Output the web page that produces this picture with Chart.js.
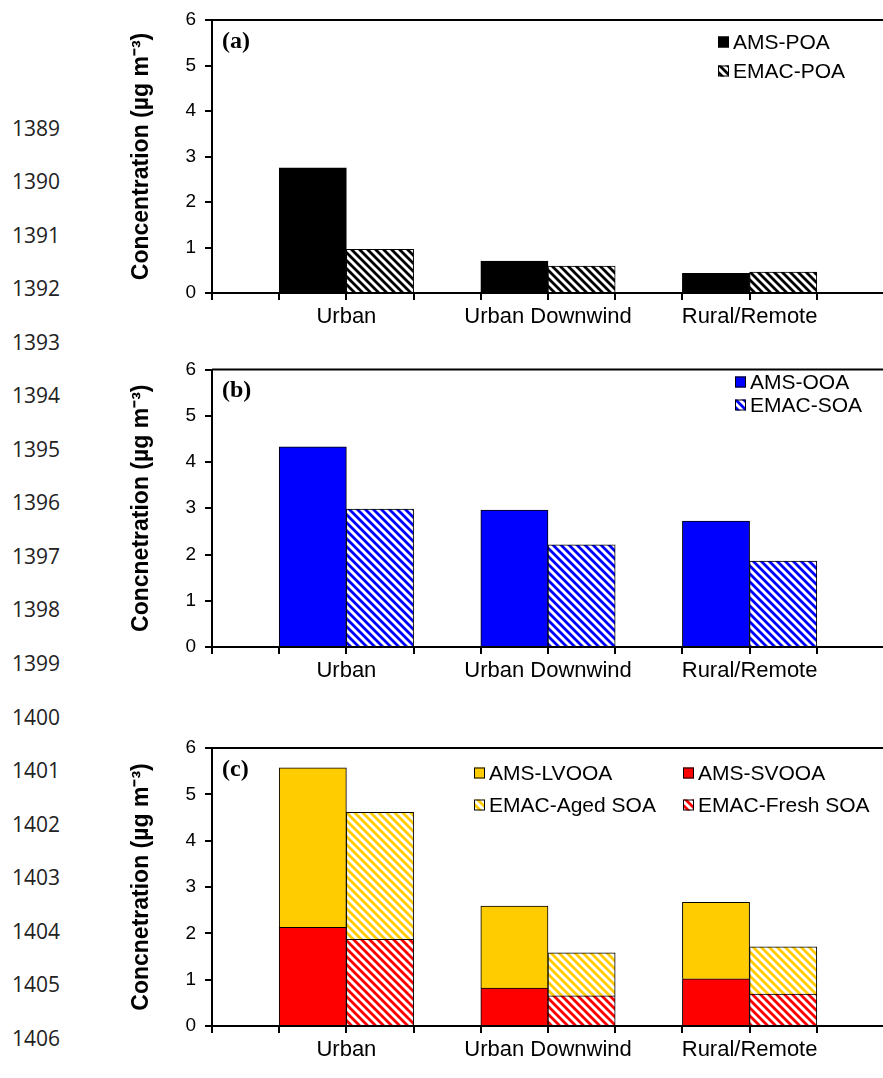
<!DOCTYPE html>
<html>
<head>
<title>OA components: AMS vs EMAC</title>
<script src="https://cdn.jsdelivr.net/npm/chart.js@4.4.0/dist/chart.umd.min.js"></script>
<style>
body {
	margin: 0;
	width: 883px;
	height: 1078px;
	overflow: hidden;
	background: #fff;
	position: relative;
}
.panel {
	position: absolute;
	left: 110px;
}
.lineno {
	position: absolute;
	left: 12px;
	font-family: "Open Sans", sans-serif;
	font-size: 21px;
	line-height: 20px;
	color: #222;
}
</style>
</head>
<body>
	<div class="panel" style="top:0px"><canvas id="chart-a" width="778" height="340"></canvas></div>
	<div class="panel" style="top:350px"><canvas id="chart-b" width="778" height="344"></canvas></div>
	<div class="panel" style="top:728px"><canvas id="chart-c" width="778" height="345"></canvas></div>
	<script>
		// site categories
		const catNames = ['Urban', 'Urban Downwind', 'Rural/Remote'];
		const yTicks = [0, 1, 2, 3, 4, 5, 6];

		// (a) primary OA
		const amsPOA = [2.75, 0.70, 0.43];
		const emacPOA = [0.96, 0.59, 0.46];

		// (b) oxygenated / secondary OA
		const amsOOA = [4.33, 2.96, 2.72];
		const emacSOA = [2.98, 2.21, 1.86];

		// (c) split by volatility / age
		const amsSVOOA = [2.13, 0.82, 1.02];
		const amsLVOOA = [3.44, 1.77, 1.65];
		const emacFresh = [1.87, 0.65, 0.69];
		const emacAged = [2.74, 0.93, 1.02];

		// page line numbers of the manuscript
		for (let n = 1389; n <= 1406; n++) {
			const d = document.createElement('div');
			d.className = 'lineno';
			d.textContent = n;
			d.style.top = (127.5 + (n - 1389) * 53.55 - 10) + 'px';
			document.body.appendChild(d);
		}

		Chart.defaults.font.family = '"Liberation Sans", Arial, sans-serif';
		Chart.defaults.color = '#000';

		function hatch(color) {
			const c = document.createElement('canvas');
			c.width = 8;
			c.height = 8;
			const g = c.getContext('2d');
			g.fillStyle = '#fff';
			g.fillRect(0, 0, 8, 8);
			g.strokeStyle = color;
			g.lineWidth = 2.8;
			g.beginPath();
			for (const k of [-8, 0, 8]) {
				g.moveTo(k - 1, -1);
				g.lineTo(k + 9, 9);
			}
			g.stroke();
			return g.createPattern(c, 'repeat');
		}

		// AMS bar sits left of the group centre, EMAC bar right of it
		const pts = (vals, k) => vals.map((v, i) => ({ x: 3 * i + 1.5 + k, y: v }));

		const panelDecor = {
			id: 'panelDecor',
			afterDraw(chart, args, opts) {
				const { ctx, chartArea } = chart;
				ctx.save();
				ctx.strokeStyle = '#000';
				ctx.lineWidth = 2;
				ctx.beginPath();
				ctx.moveTo(chartArea.left, chartArea.top);
				ctx.lineTo(chartArea.right, chartArea.top);
				ctx.stroke();

				ctx.fillStyle = '#000';
				ctx.textBaseline = 'middle';
				ctx.textAlign = 'left';
				ctx.font = 'bold 24px "Liberation Serif", "Times New Roman", serif';
				ctx.fillText(opts.tag, 112, opts.tagY);

				ctx.font = '21px "Liberation Sans", Arial, sans-serif';
				chart.data.datasets.forEach((ds, i) => {
					const p = opts.legend[i];
					ctx.fillStyle = ds.backgroundColor;
					ctx.fillRect(p.x, p.y - 5.5, 11, 11);
					ctx.lineWidth = 1;
					ctx.strokeStyle = '#000';
					ctx.strokeRect(p.x + 0.5, p.y - 5, 10, 10);
					ctx.fillStyle = '#000';
					ctx.fillText(ds.label, p.x + 15, p.y + 1);
				});
				ctx.restore();
			}
		};

		function makeChart(id, datasets, yTitle, padTop, stacked, decor) {
			const ctx = document.getElementById(id).getContext('2d');
			return new Chart(ctx, {
				type: 'bar',
				data: { datasets: datasets },
				plugins: [panelDecor],
				options: {
					responsive: false,
					animation: false,
					events: [],
					layout: { padding: { top: padTop, left: 0, right: 0, bottom: 0 } },
					datasets: {
						bar: {
							grouped: false,
							barPercentage: 1,
							categoryPercentage: 1,
							borderWidth: 1,
							borderColor: '#000'
						}
					},
					plugins: {
						legend: { display: false },
						tooltip: { enabled: false },
						panelDecor: decor
					},
					scales: {
						x: {
							type: 'linear',
							min: 0,
							max: 10,
							offset: false,
							border: { color: '#000', width: 2 },
							grid: { offset: false, drawOnChartArea: false, drawTicks: true, tickLength: 7, color: '#000', lineWidth: 2 },
							ticks: {
								stepSize: 1,
								autoSkip: false,
								maxRotation: 0,
								minRotation: 0,
								padding: 4,
								font: { size: 22 },
								callback: (v) => {
									const i = (v - 2) / 3;
									return Number.isInteger(i) && catNames[i] ? catNames[i] : '';
								}
							},
							afterFit: (s) => { s.height = 47; }
						},
						y: {
							min: yTicks[0],
							max: yTicks[yTicks.length - 1],
							stacked: stacked,
							border: { color: '#000', width: 2 },
							grid: { drawOnChartArea: false, drawTicks: true, tickLength: 7, color: '#000', lineWidth: 2 },
							ticks: { stepSize: 1, padding: 9, font: { size: 19, lineHeight: 1 } },
							title: {
								display: true,
								text: yTitle,
								font: { size: 23, weight: 'bold' },
								padding: { top: 18, bottom: 0 }
							},
							afterFit: (s) => { s.width = 102; }
						}
					}
				}
			});
		}

		makeChart('chart-a', [
			{ label: 'AMS-POA', data: pts(amsPOA, 0), backgroundColor: '#000000', stack: 'ams' },
			{ label: 'EMAC-POA', data: pts(emacPOA, 1), backgroundColor: hatch('#000000'), stack: 'emac' }
		], 'Concentration (µg m⁻³)', 20, false, {
			tag: '(a)', tagY: 42,
			legend: [{ x: 608, y: 42 }, { x: 608, y: 71 }]
		});

		makeChart('chart-b', [
			{ label: 'AMS-OOA', data: pts(amsOOA, 0), backgroundColor: '#0000ff', stack: 'ams' },
			{ label: 'EMAC-SOA', data: pts(emacSOA, 1), backgroundColor: hatch('#0000ff'), stack: 'emac' }
		], 'Concnetration (µg m⁻³)', 19.5, false, {
			tag: '(b)', tagY: 41,
			legend: [{ x: 625, y: 32 }, { x: 625, y: 55 }]
		});

		makeChart('chart-c', [
			{ label: 'AMS-SVOOA', data: pts(amsSVOOA, 0), backgroundColor: '#ff0000', stack: 'ams' },
			{ label: 'AMS-LVOOA', data: pts(amsLVOOA, 0), backgroundColor: '#ffcc00', stack: 'ams' },
			{ label: 'EMAC-Fresh SOA', data: pts(emacFresh, 1), backgroundColor: hatch('#ff0000'), stack: 'emac' },
			{ label: 'EMAC-Aged SOA', data: pts(emacAged, 1), backgroundColor: hatch('#ffcc00'), stack: 'emac' }
		], 'Concnetration (µg m⁻³)', 20, true, {
			tag: '(c)', tagY: 42,
			legend: [{ x: 573, y: 45 }, { x: 364, y: 45 }, { x: 573, y: 77 }, { x: 364, y: 77 }]
		});
	</script>
</body>
</html>
